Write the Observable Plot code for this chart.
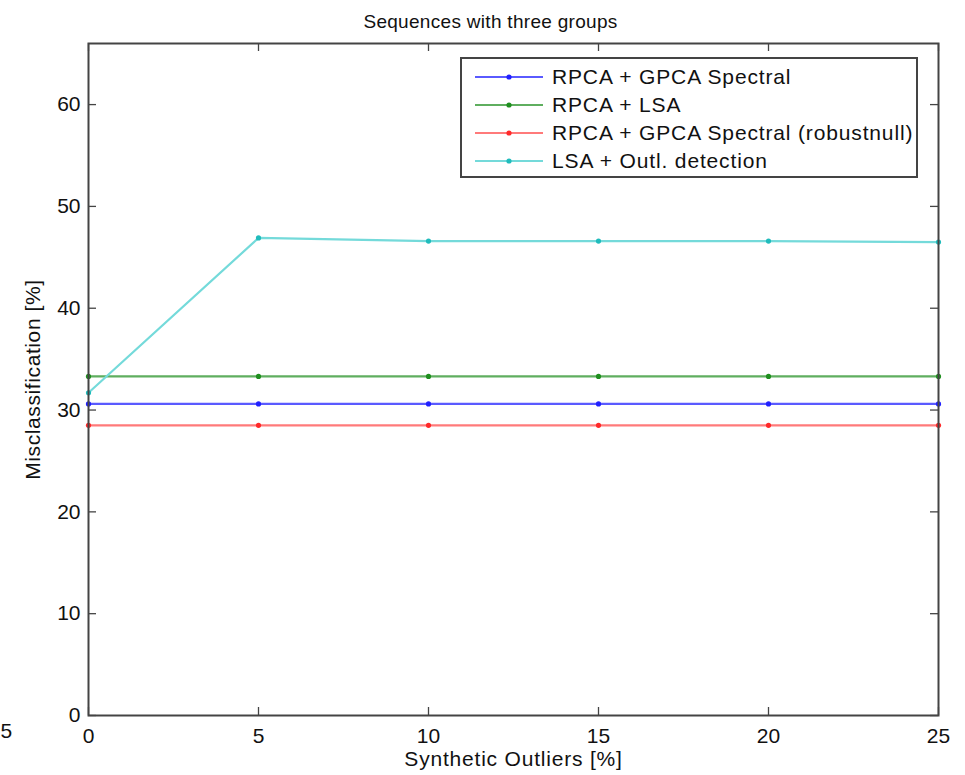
<!DOCTYPE html>
<html>
<head>
<meta charset="utf-8">
<script src="https://cdn.jsdelivr.net/npm/d3@7"></script>
<script src="https://cdn.jsdelivr.net/npm/@observablehq/plot@0.6"></script>
<style>
  html, body { margin: 0; padding: 0; background: #fff; }
  #wrap { position: relative; width: 965px; height: 775px; overflow: hidden; font-family: "Liberation Sans", Arial, Helvetica, sans-serif; }
  #legend { position: absolute; left: 460px; top: 57px; width: 454px; height: 117px; border: 2px solid #444; background: #fff; box-sizing: content-box; }
  .row { position: absolute; left: 0; height: 28px; display: flex; align-items: center; }
  .row svg { margin-left: 13px; }
  .row span { margin-left: 9px; font-size: 21px; letter-spacing: 0.85px; color: #111; white-space: nowrap; }
</style>
</head>
<body>
<div id="wrap"></div>
<script>
const outliers = [0, 5, 10, 15, 20, 25];
const seriesNames = ["RPCA + GPCA Spectral", "RPCA + LSA", "RPCA + GPCA Spectral (robustnull)", "LSA + Outl. detection"];
const rpcaGpca = [30.6, 30.6, 30.6, 30.6, 30.6, 30.6];
const rpcaLsa = [33.3, 33.3, 33.3, 33.3, 33.3, 33.3];
const rpcaGpcaRobust = [28.5, 28.5, 28.5, 28.5, 28.5, 28.5];
const lsaOutl = [31.7, 46.9, 46.6, 46.6, 46.6, 46.5];
const xTicks = [0, 5, 10, 15, 20, 25];
const yTicks = [0, 10, 20, 30, 40, 50, 60];
const lineColors = ["#5a5aff", "#5fae5f", "#ff7a7a", "#74dada"];
const dotColors = ["#2020ff", "#1f8f1f", "#ff2a2a", "#20bcbc"];

const allSeries = [rpcaGpca, rpcaLsa, rpcaGpcaRobust, lsaOutl];
const data = [];
allSeries.forEach((vals, s) => vals.forEach((v, i) => data.push({series: seriesNames[s], x: outliers[i], y: v})));

const W = 965, H = 775, mL = 88, mR = 27, mT = 43, mB = 60;
const xDom = [0, 25], yDom = [0, 66];
const tickPx = 8;
const dxTick = tickPx * (xDom[1] - xDom[0]) / (W - mL - mR);
const dyTick = tickPx * (yDom[1] - yDom[0]) / (H - mT - mB);
const axisColor = "#444";
const font = "Liberation Sans, Arial, Helvetica, sans-serif";

const titleText = "Sequences with three groups";
const xLabel = "Synthetic Outliers [%]";
const yLabel = "Misclassification [%]";

const chart = Plot.plot({
  width: W, height: H,
  marginLeft: mL, marginRight: mR, marginTop: mT, marginBottom: mB,
  style: {fontFamily: font, background: "#fff", overflow: "visible"},
  x: {domain: xDom},
  y: {domain: yDom},
  color: {domain: seriesNames, range: lineColors},
  marks: [
    Plot.line(data, {x: "x", y: "y", z: "series", stroke: "series", strokeWidth: 2.2}),
    Plot.dot(data, {x: "x", y: "y", fill: (d) => dotColors[seriesNames.indexOf(d.series)], r: 2.6}),
    Plot.frame({stroke: axisColor, strokeWidth: 2}),
    Plot.ruleX(xTicks, {y1: yDom[0], y2: yDom[0] + dyTick, stroke: axisColor, strokeWidth: 1.3}),
    Plot.ruleX(xTicks, {y1: yDom[1], y2: yDom[1] - dyTick, stroke: axisColor, strokeWidth: 1.3}),
    Plot.ruleY(yTicks, {x1: xDom[0], x2: xDom[0] + dxTick, stroke: axisColor, strokeWidth: 1.3}),
    Plot.ruleY(yTicks, {x1: xDom[1], x2: xDom[1] - dxTick, stroke: axisColor, strokeWidth: 1.3}),
    Plot.axisX(xTicks, {anchor: "bottom", tickSize: 0, tickPadding: 13, fontSize: 21, fill: "#111", label: null}),
    Plot.axisY(yTicks, {anchor: "left", tickSize: 0, tickPadding: 8, fontSize: 21, fill: "#111", label: null}),
    Plot.text([titleText], {frameAnchor: "top", dx: -23, dy: -29, fontSize: 19, fill: "#111"}),
    Plot.text([xLabel], {frameAnchor: "bottom", dy: 50, fontSize: 21, fill: "#111"}),
    Plot.text([yLabel], {frameAnchor: "left", textAnchor: "middle", dx: -55, rotate: -90, fontSize: 21, fill: "#111"}),
    Plot.text(["5"], {frameAnchor: "bottom-left", dx: -88, dy: 22, textAnchor: "start", fontSize: 21, fill: "#111"})
  ]
});

d3.select(chart).selectAll("text").each(function () {
  const t = this.textContent;
  if (t === xLabel) this.setAttribute("letter-spacing", "0.8");
  if (t === yLabel) this.setAttribute("letter-spacing", "0.6");
  if (t === titleText) this.setAttribute("letter-spacing", "0.3");
});

const wrap = document.getElementById("wrap");
wrap.appendChild(chart);

const legend = document.createElement("div");
legend.id = "legend";
seriesNames.forEach((name, i) => {
  const row = document.createElement("div");
  row.className = "row";
  row.style.top = (4 + i * 28) + "px";
  row.innerHTML = `<svg width="68" height="10"><line x1="0" y1="5" x2="68" y2="5" stroke="${lineColors[i]}" stroke-width="2.2"/><circle cx="34" cy="5" r="2.6" fill="${dotColors[i]}"/></svg><span>${name}</span>`;
  legend.appendChild(row);
});
wrap.appendChild(legend);
</script>
</body>
</html>
